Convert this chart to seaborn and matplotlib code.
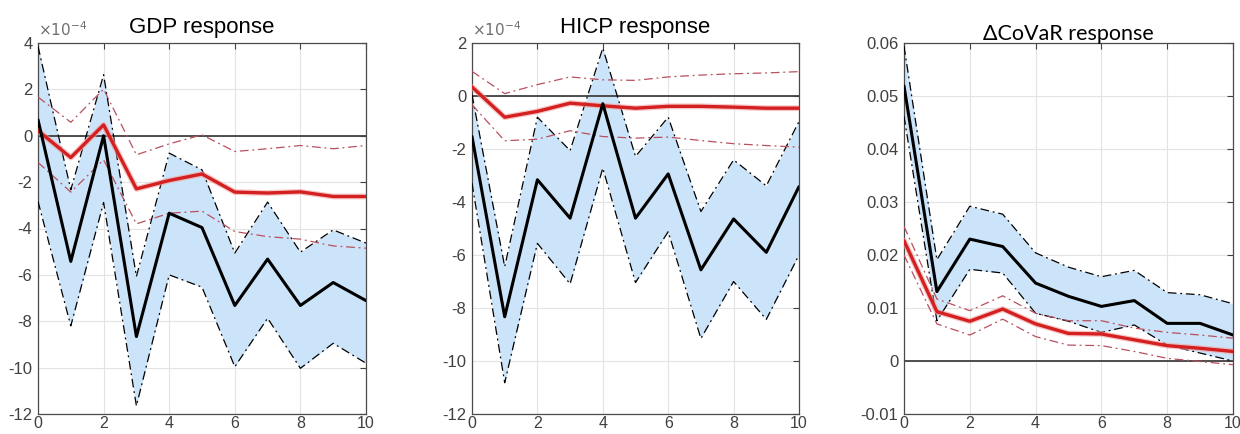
import numpy as np
import pandas as pd
import matplotlib
matplotlib.use("Agg")
import matplotlib.pyplot as plt
import seaborn as sns

horizon = list(range(11))

# GDP response (x 1e-4)
gdp_black = [0.69, -5.42, 0.0, -8.66, -3.34, -3.96, -7.32, -5.32, -7.32, -6.33, -7.11]
gdp_black_up = [3.86, -2.33, 2.63, -6.07, -0.75, -1.47, -5.06, -2.86, -5.02, -4.06, -4.63]
gdp_black_lo = [-2.83, -8.20, -2.88, -11.65, -6.00, -6.53, -9.96, -7.87, -10.03, -8.95, -9.81]
gdp_red = [0.22, -0.94, 0.47, -2.29, -1.93, -1.65, -2.43, -2.47, -2.42, -2.62, -2.62]
gdp_red_up = [1.67, 0.58, 2.01, -0.82, -0.35, 0.04, -0.68, -0.56, -0.42, -0.56, -0.42]
gdp_red_lo = [-1.15, -2.43, -1.04, -3.80, -3.34, -3.25, -4.13, -4.35, -4.46, -4.75, -4.85]

# HICP response (x 1e-4)
hicp_black = [-1.53, -8.33, -3.16, -4.61, -0.29, -4.61, -2.94, -6.56, -4.64, -5.90, -3.42]
hicp_black_up = [0.05, -6.44, -0.80, -2.06, 1.81, -2.28, -0.80, -4.36, -2.41, -3.39, -0.96]
hicp_black_lo = [-3.29, -10.82, -5.56, -7.09, -2.72, -7.04, -5.12, -9.15, -7.00, -8.43, -6.00]
hicp_red = [0.34, -0.80, -0.58, -0.27, -0.37, -0.46, -0.39, -0.39, -0.42, -0.46, -0.46]
hicp_red_up = [0.93, 0.09, 0.43, 0.72, 0.61, 0.59, 0.72, 0.79, 0.84, 0.87, 0.92]
hicp_red_lo = [-0.33, -1.69, -1.63, -1.31, -1.53, -1.59, -1.55, -1.68, -1.80, -1.87, -1.93]

# Delta CoVaR response
covar_black = [0.0519, 0.0131, 0.0230, 0.0216, 0.0147, 0.0122, 0.0103, 0.0114, 0.0071, 0.0071, 0.0049]
covar_black_up = [0.0594, 0.0191, 0.0292, 0.0277, 0.0204, 0.0177, 0.0159, 0.0171, 0.0129, 0.0125, 0.0108]
covar_black_lo = [0.0462, 0.0076, 0.0173, 0.0166, 0.0090, 0.0075, 0.0054, 0.0068, 0.0030, 0.0015, 0.0000]
covar_red = [0.0227, 0.0093, 0.0075, 0.0098, 0.0070, 0.0052, 0.0051, 0.0040, 0.0029, 0.0024, 0.0018]
covar_red_up = [0.0254, 0.0117, 0.0095, 0.0123, 0.0090, 0.0076, 0.0076, 0.0062, 0.0054, 0.0049, 0.0043]
covar_red_lo = [0.0200, 0.0070, 0.0049, 0.0079, 0.0046, 0.0030, 0.0029, 0.0018, 0.0005, -0.0001, -0.0007]

titles = ["GDP response", "HICP response", "\u0394CoVaR response"]
ylims = [(-12, 4), (-12, 2), (-0.01, 0.06)]
yticks = [list(range(-12, 5, 2)), list(range(-12, 3, 2)),
          [-0.01, 0, 0.01, 0.02, 0.03, 0.04, 0.05, 0.06]]
yticklabels = [[str(v) for v in yticks[0]], [str(v) for v in yticks[1]],
               ["-0.01", "0", "0.01", "0.02", "0.03", "0.04", "0.05", "0.06"]]
xticks = [0, 2, 4, 6, 8, 10]
offset_labels = [r"$\times10^{-4}$", r"$\times10^{-4}$", None]

panels = [
    (gdp_black, gdp_black_up, gdp_black_lo, gdp_red, gdp_red_up, gdp_red_lo),
    (hicp_black, hicp_black_up, hicp_black_lo, hicp_red, hicp_red_up, hicp_red_lo),
    (covar_black, covar_black_up, covar_black_lo, covar_red, covar_red_up, covar_red_lo),
]

sns.set_style("white")
plt.rcParams['font.family'] = ['Liberation Sans', 'DejaVu Sans']

fig = plt.figure(figsize=(12.4, 4.34), dpi=100)
lefts = [38 / 1240, 472 / 1240, 904 / 1240]
widths = [328 / 1240, 327 / 1240, 329 / 1240]
bottom = 20 / 434
height = 371 / 434

fill_col = "#cce4f9"
red_band_col = "#b8505e"
dashdot = (0, (7, 3, 1.5, 3))
tick_col = "#404040"

for i, (blk, bup, blo, red, rup, rlo) in enumerate(panels):
    ax = fig.add_axes([lefts[i], bottom, widths[i], height])
    df = pd.DataFrame({"h": horizon, "b": blk, "bu": bup, "bl": blo,
                       "r": red, "ru": rup, "rl": rlo})
    ax.fill_between(df["h"], df["bl"], df["bu"], color=fill_col, lw=0, zorder=1)
    ax.axhline(0, color="#404040", lw=1.3, zorder=2)
    sns.lineplot(data=df, x="h", y="bu", ax=ax, color="black", lw=0.9,
                 linestyle=dashdot, zorder=3)
    sns.lineplot(data=df, x="h", y="bl", ax=ax, color="black", lw=0.9,
                 linestyle=dashdot, zorder=3)
    sns.lineplot(data=df, x="h", y="ru", ax=ax, color=red_band_col, lw=0.9,
                 linestyle=dashdot, zorder=3)
    sns.lineplot(data=df, x="h", y="rl", ax=ax, color=red_band_col, lw=0.9,
                 linestyle=dashdot, zorder=3)
    sns.lineplot(data=df, x="h", y="r", ax=ax, color="#f2a0a0", lw=4.2,
                 alpha=0.6, zorder=4)
    sns.lineplot(data=df, x="h", y="r", ax=ax, color="#d42020", lw=2.4, zorder=5)
    sns.lineplot(data=df, x="h", y="b", ax=ax, color="black", lw=2.2, zorder=6)

    ax.set_xlim(0, 10)
    ax.set_ylim(*ylims[i])
    ax.set_xticks(xticks)
    ax.set_xticklabels([str(v) for v in xticks])
    ax.set_yticks(yticks[i])
    ax.set_yticklabels(yticklabels[i])
    ax.set_xlabel("")
    ax.set_ylabel("")
    ax.grid(True, color="#e3e3e3", lw=0.8, zorder=0)
    ax.set_axisbelow(True)
    ax.tick_params(direction="in", length=4, width=0.8, colors=tick_col,
                   labelsize=12, top=True, right=True, labelcolor=tick_col)
    ax.tick_params(axis="x", pad=1.5, labelsize=11.5)
    ax.tick_params(axis="y", pad=4)
    for s in ax.spines.values():
        s.set_color("#4a4a4a")
        s.set_linewidth(0.9)
        s.set_visible(True)
    if i < 2:
        ax.set_title(titles[i], fontsize=16, pad=7, color="black")
    else:
        ax.set_title(titles[i], fontsize=15.5, pad=2, color="black",
                     family=['Lato', 'DejaVu Sans'])
    if offset_labels[i]:
        ax.text(0.0, 1.012, offset_labels[i], transform=ax.transAxes,
                fontsize=11, color="#707070", ha="left", va="bottom")

fig.savefig("out.png", dpi=100)
